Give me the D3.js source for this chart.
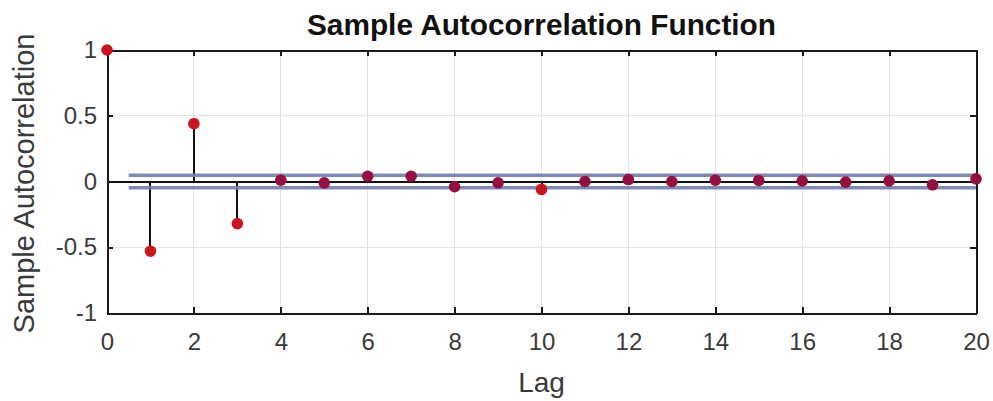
<!DOCTYPE html>
<html>
<head>
<meta charset="utf-8">
<script src="https://cdn.jsdelivr.net/npm/d3@7"></script>
<style>
  html, body { margin: 0; padding: 0; background: #fff; }
  svg { display: block; }
  text { font-family: "Liberation Sans", Arial, sans-serif; }
</style>
</head>
<body>
<svg id="chart" width="993" height="401"></svg>
<script>
// Sample autocorrelation by lag
const lags = [0, 1, 2, 3, 4, 5, 6, 7, 8, 9, 10, 11, 12, 13, 14, 15, 16, 17, 18, 19, 20];
const acf = [1, -0.53, 0.44, -0.32, 0.01, -0.01, 0.04, 0.04, -0.04, -0.01, -0.06,
             0.00, 0.015, 0.00, 0.01, 0.008, 0.005, -0.005, 0.005, -0.025, 0.02];
// Approximate confidence bounds (±)
const bound = 0.048;
const boundLags = [0.5, 20];

const xTicks = [0, 2, 4, 6, 8, 10, 12, 14, 16, 18, 20];
const yTicks = [-1, -0.5, 0, 0.5, 1];
const titleText = "Sample Autocorrelation Function";
const xLabel = "Lag";
const yLabel = "Sample Autocorrelation";

const margin = { left: 107, right: 17, top: 50, bottom: 88 };
const W = 993, H = 401;
const svg = d3.select("#chart");

const x = d3.scaleLinear().domain([0, 20]).range([margin.left, W - margin.right]);
const y = d3.scaleLinear().domain([-1, 1]).range([H - margin.bottom, margin.top]);

const axisColor = "#1a1a1a";
const tickLen = 6;
const fmt = d => String(d);

// grid
const grid = svg.append("g").attr("stroke", "#e3e3e3").attr("stroke-width", 1)
  .attr("shape-rendering", "crispEdges");
grid.selectAll("line.gx").data(xTicks.slice(1, -1)).join("line")
  .attr("x1", d => x(d)).attr("x2", d => x(d))
  .attr("y1", y(-1)).attr("y2", y(1));
grid.selectAll("line.gy").data(yTicks.slice(1, -1)).join("line")
  .attr("x1", x(0)).attr("x2", x(20))
  .attr("y1", d => y(d)).attr("y2", d => y(d));

// zero baseline
svg.append("line")
  .attr("x1", x(0)).attr("x2", x(20))
  .attr("y1", y(0)).attr("y2", y(0))
  .attr("stroke", "#111").attr("stroke-width", 2)
  .attr("shape-rendering", "crispEdges");

// stems
svg.append("g").attr("shape-rendering", "crispEdges")
  .selectAll("line").data(lags.slice(1)).join("line")
  .attr("x1", d => x(d)).attr("x2", d => x(d))
  .attr("y1", y(0)).attr("y2", d => y(acf[d]))
  .attr("stroke", "#111").attr("stroke-width", 2);

// confidence bounds
svg.append("g").selectAll("line").data([bound, -bound]).join("line")
  .attr("x1", x(boundLags[0])).attr("x2", x(boundLags[1]))
  .attr("y1", d => y(d)).attr("y2", d => y(d))
  .attr("stroke", "#727eae").attr("stroke-width", 3.4).attr("opacity", 0.9);

// axes box with inward ticks (mirrored on top and right)
const xAxisB = d3.axisBottom(x).tickValues(xTicks).tickSizeInner(-tickLen).tickSizeOuter(0).tickPadding(20).tickFormat(fmt);
const xAxisT = d3.axisTop(x).tickValues(xTicks).tickSizeInner(-tickLen).tickSizeOuter(0).tickFormat("");
const yAxisL = d3.axisLeft(y).tickValues(yTicks).tickSizeInner(-tickLen).tickSizeOuter(0).tickPadding(10).tickFormat(fmt);
const yAxisR = d3.axisRight(y).tickValues(yTicks).tickSizeInner(-tickLen).tickSizeOuter(0).tickFormat("");

function styleAxis(g) {
  g.select(".domain").attr("stroke", axisColor).attr("stroke-width", 2).attr("fill", "none")
    .attr("shape-rendering", "crispEdges");
  g.selectAll(".tick line").attr("stroke", axisColor).attr("stroke-width", 2)
    .attr("shape-rendering", "crispEdges");
  g.selectAll(".tick text").attr("fill", "#3a3a3a").attr("font-size", 24)
    .attr("font-family", "'Liberation Sans', Arial, sans-serif");
}
svg.append("g").attr("transform", `translate(0,${y(-1)})`).call(xAxisB).call(styleAxis);
svg.append("g").attr("transform", `translate(0,${y(1)})`).call(xAxisT).call(styleAxis);
svg.append("g").attr("transform", `translate(${x(0)},0)`).call(yAxisL).call(styleAxis);
svg.append("g").attr("transform", `translate(${x(20)},0)`).call(yAxisR).call(styleAxis);

// markers
svg.append("g").selectAll("circle").data(lags).join("circle")
  .attr("cx", d => x(d)).attr("cy", d => y(acf[d]))
  .attr("r", 5.8)
  .attr("fill", d => Math.abs(acf[d]) > bound ? "#cc1420" : "#960f3e");

// title and labels
svg.append("text")
  .attr("x", (x(0) + x(20)) / 2).attr("y", 35)
  .attr("text-anchor", "middle").attr("font-weight", "bold")
  .attr("font-size", 29.8).attr("fill", "#111")
  .text(titleText);

svg.append("text")
  .attr("x", (x(0) + x(20)) / 2).attr("y", 392)
  .attr("text-anchor", "middle").attr("font-size", 28).attr("fill", "#3a3a3a")
  .text(xLabel);

svg.append("text")
  .attr("transform", `translate(34,${(y(-1) + y(1)) / 2 + 2}) rotate(-90)`)
  .attr("text-anchor", "middle").attr("font-size", 29).attr("fill", "#3a3a3a")
  .text(yLabel);
</script>
</body>
</html>
